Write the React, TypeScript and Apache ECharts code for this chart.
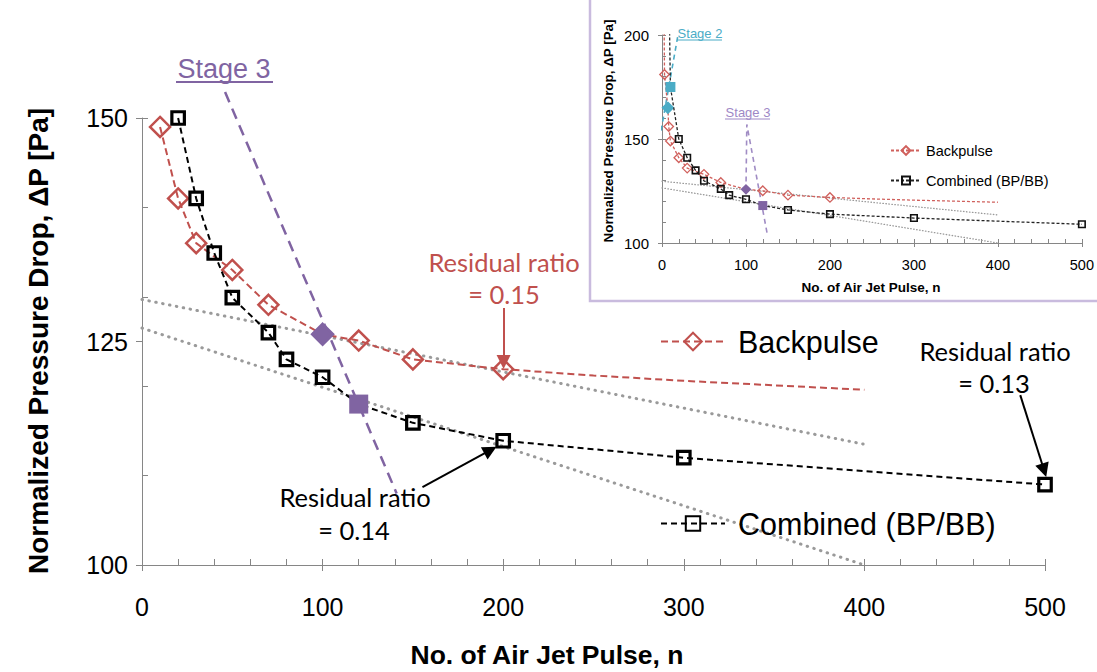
import React, { useEffect, useRef } from "react";
import * as echarts from "echarts";

// ---------- data ----------
const bpN = [2, 3, 7, 8, 10, 20, 30, 50, 70, 100, 120, 150, 200];
const bpV = [230, 181, 165, 156, 149, 141, 136, 133, 129.1, 125.8, 125.1, 123, 121.9];
const bpTailN = [250, 300, 350, 400];
const bpTailV = [121.2, 120.6, 120.1, 119.6];
const cbN = [8, 10, 20, 30, 40, 50, 70, 80, 100, 120, 150, 200, 300, 500];
const cbV = [230, 175, 150, 141, 134.9, 129.9, 126, 123, 121, 118, 115.9, 113.9, 112, 109];
const trendUpperN = [0, 400];
const trendUpperV = [129.7, 113.5];
const trendLowerN = [0, 400];
const trendLowerV = [126.5, 100];
const stage3N = [46, 141];
const stage3V = [152.9, 108];
const stage2InsetN = [-16, 18.6];
const stage2InsetV = [120, 199];
const stage3InsetN = [125, 101, 100];
const stage3InsetV = [105, 157, 126];
const stage2BpN = 7;
const stage2CbN = 10;
const stage3BpN = 100;
const stage3CbN = 120;
const mainBpStart = 10;
const mainCbStart = 20;
// annotation arrows [startN, startV, endN, endV]
const arrow015 = [200.2, 128.75, 200.2, 122.7];
const arrow014 = [155.3, 108.7, 192.9, 112.85];
const arrow013 = [486.3, 119.0, 499.5, 110.6];

const RED = "#C0504D";
const RED_IN = "#D0605C";
const PURPLE = "#8064A2";
const TEAL = "#4BACC6";
const GREY = "#9A9A9A";
const AXIS = "#868686";
const ARIAL = "'Liberation Sans', Arial, sans-serif";
const CAL = "Lato, 'Open Sans', sans-serif";

const pairs = (ns: number[], vs: number[]) => ns.map((n, i) => [n, vs[i]]);

export default function App() {
  const ref = useRef<HTMLDivElement>(null);
  useEffect(() => {
    if (!ref.current) return;
    const chart = echarts.init(ref.current, null, { renderer: "svg" });

    const bpMain: any[] = bpN
      .map((n, i) => [n, bpV[i]])
      .filter((p) => p[0] >= mainBpStart)
      .map((p) =>
        p[0] === stage3BpN
          ? { value: p, symbolSize: 21, itemStyle: { color: PURPLE, borderColor: PURPLE } }
          : p
      )
      .concat(pairs(bpTailN, bpTailV).map((p) => ({ value: p, symbol: "none" })));
    const cbMain: any[] = cbN
      .map((n, i) => [n, cbV[i]])
      .filter((p) => p[0] >= mainCbStart)
      .map((p) =>
        p[0] === stage3CbN
          ? { value: p, symbolSize: 19, itemStyle: { color: PURPLE, borderColor: PURPLE, borderWidth: 0 } }
          : p
      );
    const bpInset: any[] = bpN
      .map((n, i) => [n, bpV[i]])
      .map((p) =>
        p[0] === stage3BpN
          ? { value: p, symbolSize: 9, itemStyle: { color: PURPLE, borderColor: PURPLE } }
          : p[0] === stage2BpN
          ? { value: p, symbolSize: 11, itemStyle: { color: TEAL, borderColor: TEAL } }
          : p
      )
      .concat(pairs(bpTailN, bpTailV).map((p) => ({ value: p, symbol: "none" })));
    const cbInset: any[] = cbN
      .map((n, i) => [n, cbV[i]])
      .map((p) =>
        p[0] === stage3CbN
          ? { value: p, symbolSize: 9, itemStyle: { color: PURPLE, borderColor: PURPLE, borderWidth: 0 } }
          : p[0] === stage2CbN
          ? { value: p, symbolSize: 10, itemStyle: { color: TEAL, borderColor: TEAL, borderWidth: 0 } }
          : p
      );

    const arrowLine = (a: number[], color: string) => [
      { coord: [a[0], a[1]], lineStyle: { color, width: 2, type: "solid" } },
      { coord: [a[2], a[3]] },
    ];

    const mkX = (grid: number, labels: boolean, size: number, margin: number, tick: number) => [
      {
        type: "value", gridIndex: grid, position: "bottom", min: 0, max: 500, interval: 100,
        axisLine: { show: true, lineStyle: { color: AXIS, width: 1 } },
        axisTick: { show: true, inside: false, length: tick, lineStyle: { color: AXIS } },
        axisLabel: { show: labels, fontSize: size, fontFamily: ARIAL, color: "#000", margin },
        splitLine: { show: false },
      },
      {
        type: "value", gridIndex: grid, position: "bottom", min: 0, max: 500, interval: 100,
        axisLine: { show: false },
        axisTick: { show: true, inside: true, length: tick, lineStyle: { color: AXIS } },
        minorTick: { show: true, splitNumber: 5, length: tick, lineStyle: { color: AXIS } },
        axisLabel: { show: false },
        splitLine: { show: false },
      },
    ];
    const mkY = (grid: number, min: number, max: number, major: number, minor: number, size: number, margin: number, tick: number) => [
      {
        type: "value", gridIndex: grid, position: "left", min, max, interval: major,
        axisLine: { show: true, lineStyle: { color: AXIS, width: 1 } },
        axisTick: { show: true, inside: false, length: tick, lineStyle: { color: AXIS } },
        axisLabel: { show: true, fontSize: size, fontFamily: ARIAL, color: "#000", margin },
        splitLine: { show: false },
      },
      {
        type: "value", gridIndex: grid, position: "left", min, max, interval: minor,
        axisLine: { show: false },
        axisTick: { show: true, inside: true, length: tick, lineStyle: { color: AXIS } },
        axisLabel: { show: false },
        splitLine: { show: false },
      },
    ];

    const dotted = (xi: number, yi: number, data: number[][], w: number, dash: number[]) => ({
      type: "line", xAxisIndex: xi, yAxisIndex: yi, data, symbol: "none", silent: true,
      lineStyle: { color: GREY, width: w, type: dash, cap: "round" }, z: 1,
    });

    const txt = (text: string, x: number, y: number, size: number, fill: string, family = CAL, extra: any = {}) => ({
      type: "text", x, y, silent: true, z: 10,
      style: { text, fontSize: size, fontFamily: family, fill, align: "center", verticalAlign: "middle", ...extra },
    });
    const uline = (x1: number, x2: number, y: number, color: string, w: number) => ({
      type: "line", silent: true, z: 10,
      shape: { x1, y1: y, x2, y2: y }, style: { stroke: color, lineWidth: w },
    });

    const option: any = {
      animation: false,
      backgroundColor: "#fff",
      grid: [
        { left: 142, top: 118, width: 903, height: 447 },
        { left: 662, top: 35, width: 420, height: 208 },
      ],
      xAxis: [...mkX(0, true, 25, 29, 6), ...mkX(1, true, 14.5, 14, 4)],
      yAxis: [...mkY(0, 100, 150, 25, 10, 25, 14, 6), ...mkY(1, 100, 200, 50, 10, 15, 13, 4)],
      legend: [
        {
          data: ["Backpulse"], left: 655, top: 321, itemWidth: 64, itemHeight: 22, selectedMode: false,
          textStyle: { fontSize: 30.5, fontFamily: ARIAL, color: "#000", padding: [0, 0, 0, 8] },
        },
        {
          data: ["Combined (BP/BB)"], left: 655, top: 503, itemWidth: 64, itemHeight: 18, selectedMode: false,
          textStyle: { fontSize: 30.5, fontFamily: ARIAL, color: "#000", padding: [0, 0, 0, 8] },
        },
        {
          data: ["Backpulse "], left: 885, top: 138, itemWidth: 30, itemHeight: 11, selectedMode: false,
          formatter: (n: string) => n.trim(),
          textStyle: { fontSize: 14.5, fontFamily: ARIAL, color: "#000" },
        },
        {
          data: ["Combined (BP/BB) "], left: 885, top: 168, itemWidth: 30, itemHeight: 10, selectedMode: false,
          formatter: (n: string) => n.trim(),
          textStyle: { fontSize: 14.5, fontFamily: ARIAL, color: "#000" },
        },
      ],
      series: [
        dotted(0, 0, pairs(trendUpperN, trendUpperV), 3, [0.5, 6.5]),
        dotted(0, 0, pairs(trendLowerN, trendLowerV), 3, [0.5, 6.5]),
        {
          type: "line", name: "Stage 3 line", xAxisIndex: 0, yAxisIndex: 0, data: pairs(stage3N, stage3V),
          symbol: "none", clip: false, silent: true, z: 2,
          lineStyle: { color: PURPLE, width: 2.5, type: [11, 7] },
        },
        {
          type: "line", name: "Backpulse", xAxisIndex: 0, yAxisIndex: 0, data: bpMain, clip: false,
          symbol: "diamond", symbolSize: 20, showAllSymbol: true, z: 3,
          lineStyle: { color: RED, width: 2, type: [7, 4] },
          itemStyle: { color: "rgba(255,255,255,0)", borderColor: RED, borderWidth: 2.5 },
          markLine: {
            silent: true, symbol: ["none", "triangle"], symbolSize: 14, label: { show: false },
            data: [arrowLine(arrow015, RED)],
          },
        },
        {
          type: "line", name: "Combined (BP/BB)", xAxisIndex: 0, yAxisIndex: 0, data: cbMain, clip: false,
          symbol: "rect", symbolSize: 12.5, showAllSymbol: true, z: 4,
          lineStyle: { color: "#000", width: 2, type: [6, 4] },
          itemStyle: { color: "rgba(255,255,255,0)", borderColor: "#000", borderWidth: 3.2 },
          markLine: {
            silent: true, symbol: ["none", "triangle"], symbolSize: 14, label: { show: false },
            data: [arrowLine(arrow014, "#000"), arrowLine(arrow013, "#000")],
          },
        },
        // inset
        dotted(2, 2, pairs(trendUpperN, trendUpperV), 1.3, [0.5, 2.5]),
        dotted(2, 2, pairs(trendLowerN, trendLowerV), 1.3, [0.5, 2.5]),
        {
          type: "line", xAxisIndex: 2, yAxisIndex: 2, data: pairs(stage2InsetN, stage2InsetV),
          symbol: "none", clip: false, silent: true, z: 2,
          lineStyle: { color: TEAL, width: 1.6, type: [5, 4] },
        },
        {
          type: "line", xAxisIndex: 2, yAxisIndex: 2, data: pairs(stage3InsetN, stage3InsetV),
          symbol: "none", clip: false, silent: true, z: 2,
          lineStyle: { color: "#A08CC4", width: 1.6, type: [5, 4] },
        },
        {
          type: "line", name: "Backpulse ", xAxisIndex: 2, yAxisIndex: 2, data: bpInset,
          symbol: "diamond", symbolSize: 9.5, showAllSymbol: true, z: 3,
          lineStyle: { color: RED_IN, width: 1.3, type: [3, 2] },
          itemStyle: { color: "rgba(255,255,255,0)", borderColor: RED_IN, borderWidth: 1.3 },
        },
        {
          type: "line", name: "Combined (BP/BB) ", xAxisIndex: 2, yAxisIndex: 2, data: cbInset,
          symbol: "rect", symbolSize: 6.5, showAllSymbol: true, z: 4,
          lineStyle: { color: "#222", width: 1.3, type: [3, 2] },
          itemStyle: { color: "rgba(255,255,255,0)", borderColor: "#111", borderWidth: 1.6 },
        },
      ],
      graphic: [
        {
          type: "rect", silent: true, z: 0,
          shape: { x: 590, y: -10, width: 600, height: 311 },
          style: { fill: "none", stroke: "#C9BBDE", lineWidth: 2.5 },
        },
        {
          ...txt("Normalized Pressure Drop, ΔP [Pa]", 38, 341, 28, "#000", ARIAL, { fontWeight: "bold" }),
          rotation: Math.PI / 2,
        },
        txt("No. of Air Jet Pulse, n", 547, 655, 26.5, "#000", ARIAL, { fontWeight: "bold" }),
        txt("Stage 3", 224, 69, 27, PURPLE, ARIAL),
        uline(176, 273, 82, PURPLE, 2),
        txt("Residual ratio", 504, 262, 25.5, RED),
        txt("= 0.15", 504, 294, 25.5, RED),
        txt("Residual ratio", 355, 497, 25.5, "#000"),
        txt("= 0.14", 354, 530, 25.5, "#000"),
        txt("Residual ratio", 995, 351, 25.5, "#000"),
        txt("= 0.13", 994, 383, 25.5, "#000"),
        // inset texts
        {
          ...txt("Normalized Pressure Drop, ΔP [Pa]", 608, 131, 13.4, "#000", ARIAL, { fontWeight: "bold" }),
          rotation: Math.PI / 2,
        },
        txt("No. of Air Jet Pulse, n", 871, 287, 13.5, "#000", ARIAL, { fontWeight: "bold" }),
        txt("Stage 2", 700, 33, 13, TEAL, ARIAL),
        uline(677, 722, 40, TEAL, 1),
        txt("Stage 3", 748, 112, 13, "#9E88C6", ARIAL),
        uline(725, 770, 119, "#9E88C6", 1),
      ],
    };

    chart.setOption(option);
    return () => chart.dispose();
  }, []);

  return (
    <div
      ref={ref}
      style={{ position: "fixed", left: 0, top: 0, width: 1097, height: 672, background: "#fff" }}
    />
  );
}
